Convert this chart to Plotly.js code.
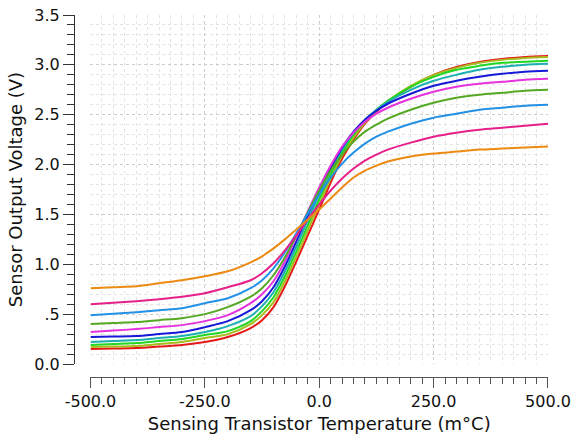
<!DOCTYPE html>
<html>
<head>
<meta charset="utf-8">
<script src="https://cdn.plot.ly/plotly-3.0.1.min.js"></script>
<style>html,body{margin:0;padding:0;background:#fff;}</style>
</head>
<body>
<div id="chart" style="width:572px;height:438px;"></div>
<script>
const temps = [-500,-450,-400,-350,-300,-250,-200,-150,-125,-100,-75,-50,-25,0,25,50,75,100,125,150,200,250,300,350,400,450,500];

const vOrange  = [0.76,0.77,0.78,0.81,0.84,0.88,0.93,1.02,1.08,1.16,1.25,1.35,1.45,1.55,1.66,1.77,1.87,1.94,1.99,2.03,2.08,2.11,2.13,2.15,2.16,2.17,2.18];
const vPink    = [0.60,0.615,0.63,0.65,0.675,0.71,0.77,0.84,0.91,1.01,1.14,1.29,1.45,1.60,1.74,1.86,1.96,2.04,2.10,2.15,2.22,2.28,2.32,2.35,2.37,2.39,2.41];
const vSky     = [0.49,0.505,0.52,0.54,0.56,0.61,0.66,0.76,0.84,0.96,1.12,1.31,1.51,1.70,1.87,2.01,2.12,2.21,2.28,2.33,2.41,2.47,2.51,2.55,2.57,2.59,2.60];
const vGreen   = [0.40,0.41,0.42,0.44,0.46,0.50,0.57,0.675,0.76,0.89,1.07,1.29,1.52,1.74,1.94,2.10,2.23,2.33,2.40,2.46,2.55,2.62,2.67,2.70,2.72,2.74,2.75];
const vMagenta = [0.32,0.335,0.35,0.37,0.39,0.43,0.49,0.61,0.70,0.83,1.03,1.28,1.53,1.77,1.99,2.18,2.32,2.43,2.51,2.57,2.66,2.73,2.78,2.81,2.83,2.85,2.86];
const vBlue    = [0.27,0.275,0.28,0.30,0.32,0.37,0.43,0.54,0.63,0.77,0.98,1.23,1.49,1.74,1.97,2.17,2.33,2.45,2.54,2.61,2.71,2.79,2.84,2.88,2.91,2.93,2.94];
const vTeal    = [0.22,0.23,0.24,0.26,0.28,0.32,0.38,0.48,0.58,0.72,0.93,1.18,1.44,1.70,1.94,2.15,2.32,2.45,2.55,2.63,2.75,2.84,2.90,2.95,2.98,3.00,3.01];
const vLime    = [0.19,0.20,0.21,0.23,0.25,0.29,0.33,0.43,0.53,0.67,0.88,1.13,1.39,1.65,1.90,2.12,2.30,2.44,2.55,2.64,2.78,2.88,2.95,2.99,3.02,3.03,3.04];
const vOlive   = [0.17,0.175,0.18,0.20,0.22,0.26,0.30,0.40,0.49,0.62,0.83,1.08,1.34,1.60,1.86,2.09,2.27,2.42,2.54,2.64,2.79,2.90,2.97,3.02,3.05,3.07,3.08];
const vRed     = [0.15,0.155,0.16,0.175,0.19,0.22,0.27,0.36,0.44,0.57,0.78,1.03,1.29,1.55,1.82,2.06,2.25,2.41,2.53,2.63,2.78,2.90,2.98,3.03,3.06,3.08,3.09];

// drawn bottom-most first
const seriesValues = [vRed,vOlive,vLime,vTeal,vBlue,vMagenta,vGreen,vSky,vPink,vOrange];
const seriesColors = ['#E61818','#A8BC1E','#22D822','#1EB0B0','#1818D8','#E632DC','#55A823','#2391E6','#E6208A','#EC8A12'];

const xTickVals = [-500,-250,0,250,500];
const xTickText = ['-500.0','-250.0','0.0','250.0','500.0'];
const yTickVals = [0,0.5,1,1.5,2,2.5,3,3.5];
const yTickText = ['0.0','.5','1.0','1.5','2.0','2.5','3.0','3.5'];

const traces = seriesValues.map((vals,i)=>({
  x: temps, y: vals, type:'scatter', mode:'lines',
  line:{color:seriesColors[i], width:2, shape:'spline', smoothing:0.8},
  hoverinfo:'skip', showlegend:false
}));

const tickFont = {family:'DejaVu Sans, Verdana, sans-serif', size:16, color:'#111'};
const titleFont = {family:'DejaVu Sans, Verdana, sans-serif', size:18, color:'#111'};
const layout = {
  width:572, height:438,
  margin:{l:74, r:24, t:15, b:61},
  paper_bgcolor:'#fff', plot_bgcolor:'#fff',
  font: tickFont,
  showlegend:false,
  xaxis:{
    domain:[0.0348,1], anchor:'free', position:0,
    range:[-500,500], tickmode:'array', tickvals:xTickVals, ticktext:xTickText,
    ticks:'outside', ticklen:10, tickwidth:1, tickcolor:'#555',
    showline:true, linecolor:'#555', linewidth:1,
    showgrid:true, gridcolor:'#cccccc', griddash:'dot', gridwidth:1,
    zeroline:false,
    minor:{tickmode:'linear', tick0:-500, dtick:25, ticks:'outside', ticklen:6, tickcolor:'#555',
           showgrid:true, gridcolor:'#e3e3e3', griddash:'dot', gridwidth:1},
    title:{text:'Sensing Transistor Temperature (m°C)', font:titleFont, standoff:7},
    tickfont:tickFont
  },
  yaxis:{
    domain:[0.0359,1], anchor:'free', position:0,
    range:[0,3.5], tickmode:'array', tickvals:yTickVals, ticktext:yTickText,
    ticks:'outside', ticklen:11, tickwidth:1, tickcolor:'#333',
    showline:true, linecolor:'#333', linewidth:1,
    showgrid:true, gridcolor:'#cccccc', griddash:'dot', gridwidth:1,
    zeroline:false,
    minor:{tickmode:'linear', tick0:0, dtick:0.1, ticks:'outside', ticklen:7, tickcolor:'#333',
           showgrid:true, gridcolor:'#e3e3e3', griddash:'dot', gridwidth:1},
    title:{text:'Sensor Output Voltage (V)', font:titleFont, standoff:6},
    tickfont:tickFont
  }
};
Plotly.newPlot('chart', traces, layout, {staticPlot:true, displayModeBar:false});
</script>
</body>
</html>
